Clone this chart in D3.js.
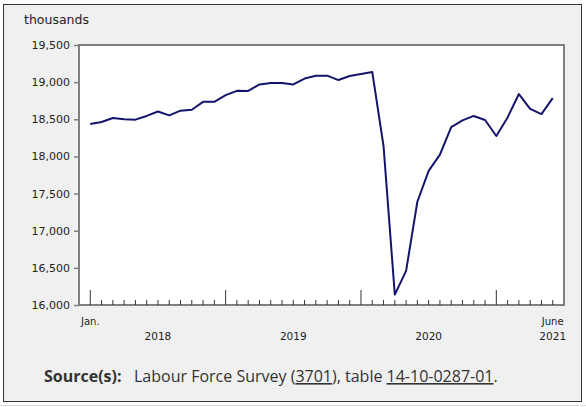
<!DOCTYPE html>
<html>
<head>
<meta charset="utf-8">
<script src="https://cdn.jsdelivr.net/npm/d3@7"></script>
<style>
  body { margin: 0; background: #fff; }
  svg { display: block; }
</style>
</head>
<body>
<div id="chart"></div>
<script>
// monthly employment, thousands, Jan 2018 .. June 2021
var months = d3.range(42);
var values = [18437, 18464, 18517, 18500, 18495, 18545, 18605, 18552, 18616, 18629, 18735, 18735,
              18825, 18883, 18881, 18969, 18990, 18990, 18969, 19048, 19087, 19087, 19028, 19083,
              19110, 19137, 18140, 16140, 16460, 17390, 17805, 18025, 18395, 18485, 18545, 18490,
              18275, 18525, 18840, 18640, 18570, 18785];
var yTicks = [16000, 16500, 17000, 17500, 18000, 18500, 19000, 19500];
var years = [{label: "2018", m: 6}, {label: "2019", m: 18}, {label: "2020", m: 30}];

var W = 586, H = 407;
var svg = d3.select("#chart").append("svg").attr("width", W).attr("height", H);

// outer panel
svg.append("rect").attr("x", 3.5).attr("y", 4.5).attr("width", 578).attr("height", 397)
   .style("fill", "#f0f0f0").style("stroke", "#333").style("stroke-width", 1);
svg.append("line").attr("x1", 0).attr("x2", W).attr("y1", 405.5).attr("y2", 405.5)
   .style("stroke", "#ddd");

var x = d3.scaleLinear().domain([-1, 42]).range([79, 564]);
var y = d3.scaleLinear().domain([16000, 19500]).range([305, 45]);

// plot area
svg.append("rect").attr("x", x(-1)).attr("y", y(19500))
   .attr("width", x(42) - x(-1)).attr("height", y(16000) - y(19500))
   .style("fill", "#fff").style("stroke", "#808080").style("stroke-width", 2);

// y axis
var yAxis = svg.append("g").attr("transform", "translate(" + x(-1) + ",0)")
   .call(d3.axisLeft(y).tickValues(yTicks).tickFormat(d3.format(",")).tickSize(5).tickPadding(4));
yAxis.select(".domain").remove();
yAxis.selectAll("line").style("stroke", "#808080").style("stroke-width", 1.5);
yAxis.selectAll("text").style("font-family", "DejaVu Sans").style("font-size", "11px").style("fill", "#222");

svg.append("text").attr("x", 24).attr("y", 24).text("thousands")
   .style("font-family", "DejaVu Sans").style("font-size", "12.5px").style("fill", "#222");

// x ticks, drawn upward into the plot
var xAxis = svg.append("g").attr("transform", "translate(0," + y(16000) + ")");
xAxis.selectAll("line").data(months).enter().append("line")
   .attr("x1", function(d) { return x(d); }).attr("x2", function(d) { return x(d); })
   .attr("y1", 0).attr("y2", function(d) { return d % 12 == 0 ? -15 : -5; })
   .style("stroke", "#333").style("stroke-width", 1);

var label_font = "DejaVu Sans";
svg.append("text").attr("x", x(0)).attr("y", 325).attr("text-anchor", "middle").text("Jan.")
   .style("font-family", label_font).style("font-size", "10px").style("fill", "#222");
svg.append("text").attr("x", x(41)).attr("y", 325).attr("text-anchor", "middle").text("June")
   .style("font-family", label_font).style("font-size", "10px").style("fill", "#222");
svg.append("text").attr("x", x(41)).attr("y", 340).attr("text-anchor", "middle").text("2021")
   .style("font-family", label_font).style("font-size", "10.5px").style("fill", "#222");
svg.selectAll(".year").data(years).enter().append("text").attr("class", "year")
   .attr("x", function(d) { return x(d.m); }).attr("y", 340).attr("text-anchor", "middle")
   .text(function(d) { return d.label; })
   .style("font-family", label_font).style("font-size", "10.5px").style("fill", "#222");

// data line
var line = d3.line().x(function(d, i) { return x(months[i]); }).y(function(d) { return y(d); });
svg.append("path").datum(values).attr("d", line)
   .style("fill", "none").style("stroke", "#15146b").style("stroke-width", 2).style("stroke-linejoin", "round");

// source note
svg.append("text").attr("x", 44).attr("y", 382).text("Source(s):")
   .style("font-family", "Open Sans").style("font-size", "16px").style("font-weight", "bold").style("fill", "#333");
var src = svg.append("text").attr("x", 134).attr("y", 382)
   .style("font-family", "Open Sans").style("font-size", "16px").style("fill", "#333");
src.append("tspan").text("Labour Force Survey (");
src.append("tspan").text("3701").style("text-decoration", "underline");
src.append("tspan").text("), table ");
src.append("tspan").text("14-10-0287-01").style("text-decoration", "underline");
src.append("tspan").text(".");
</script>
</body>
</html>
